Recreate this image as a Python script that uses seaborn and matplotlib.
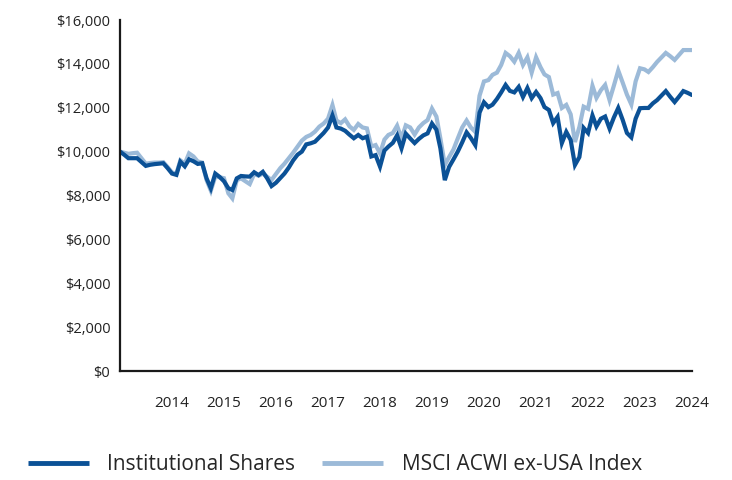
import pandas as pd
import matplotlib
matplotlib.use("Agg")
import matplotlib.pyplot as plt
import matplotlib.ticker as mticker
import seaborn as sns

# monthly growth of $10,000, Jan 2013 .. Jan 2024
fechas = pd.date_range("2013-01-01", periods=133, freq="MS")

institutional = [
    10000, 9850, 9700, 9700, 9700, 9520, 9350, 9400, 9430, 9450, 9470, 9250,
    9000, 8940, 9540, 9330, 9650, 9560, 9440, 9470, 8780, 8330, 9000, 8850,
    8650, 8330, 8250, 8780, 8890, 8870, 8860, 9060, 8930, 9080, 8780, 8430,
    8580, 8800, 9000, 9280, 9600, 9860, 10000, 10330, 10380, 10450, 10650, 10850,
    11100, 11650, 11100, 11050, 10950, 10770, 10610, 10760, 10610, 10680, 9780, 9840,
    9315, 10050, 10230, 10400, 10740, 10150, 10820, 10600, 10390, 10580, 10740, 10830,
    11280, 11000, 10150, 8700, 9300, 9650, 10000, 10420, 10880, 10620, 10300, 11780,
    12250, 12030, 12140, 12400, 12700, 13040, 12770, 12700, 12950, 12490, 12900, 12440,
    12720, 12440, 12030, 11900, 11300, 11580, 10390, 10900, 10530, 9390, 9750, 11080,
    10850, 11650, 11150, 11500, 11600, 11050, 11550, 11990, 11450, 10850, 10650, 11500,
    11980, 11990, 11990, 12200, 12350, 12560, 12760, 12500, 12260, 12500, 12760, 12680, 12580,
]

msci = [
    10000, 9950, 9900, 9930, 9950, 9700, 9450, 9480, 9500, 9500, 9520, 9300,
    9050, 9000, 9600, 9450, 9920, 9780, 9550, 9500, 8700, 8220, 8860, 8830,
    8790, 8100, 7870, 8700, 8780, 8650, 8520, 8980, 8900, 9000, 8850, 8707,
    8980, 9250, 9450, 9700, 9950, 10230, 10500, 10670, 10760, 10910, 11140, 11280,
    11500, 12120, 11420, 11300, 11470, 11150, 10990, 11260, 11100, 11060, 10230, 10300,
    9920, 10550, 10760, 10850, 11180, 10600, 11200, 11100, 10780, 11100, 11300, 11440,
    11960, 11600, 10600, 9390, 9750, 10100, 10600, 11100, 11420, 11100, 10900, 12550,
    13200, 13260, 13500, 13600, 13950, 14500, 14350, 14100, 14500, 13950, 14300, 13600,
    14300, 13850, 13520, 13400, 12600, 12670, 11990, 12130, 11700, 10440, 11120, 12050,
    11950, 13000, 12450, 12800, 13040, 12350, 13000, 13700, 13150, 12600, 12150, 13200,
    13800, 13750, 13630, 13850, 14090, 14300, 14500, 14350, 14180, 14400, 14630, 14630, 14630,
]

series = ["Institutional Shares", "MSCI ACWI ex-USA Index"]
anios = [2014, 2015, 2016, 2017, 2018, 2019, 2020, 2021, 2022, 2023, 2024]
y_ticks = [0, 2000, 4000, 6000, 8000, 10000, 12000, 14000, 16000]

colores = {series[0]: "#0B5196", series[1]: "#9CBAD8"}

df = pd.concat([
    pd.DataFrame({"fecha": fechas, "valor": institutional, "serie": series[0]}),
    pd.DataFrame({"fecha": fechas, "valor": msci, "serie": series[1]}),
])

sns.set_style("white")
plt.rcParams["font.family"] = ["Open Sans", "DejaVu Sans"]

fig = plt.figure(figsize=(7.32, 4.80), dpi=100)
ax = fig.add_axes([120 / 732, 1 - 371 / 480, (692 - 120) / 732, (371 - 20) / 480])

# index drawn first so the fund line sits on top
sns.lineplot(data=df, x="fecha", y="valor", hue="serie", hue_order=series[::-1],
             palette=colores, linewidth=3.0, ax=ax, legend=False)
for ln in ax.lines:
    ln.set_solid_joinstyle("miter")

ax.set_xlim(pd.Timestamp("2013-01-01"), pd.Timestamp("2024-01-01"))
ax.set_ylim(0, 16000)
ax.set_xticks([pd.Timestamp(f"{a}-01-01") for a in anios])
ax.set_xticklabels([str(a) for a in anios])
ax.set_yticks(y_ticks)
ax.yaxis.set_major_formatter(mticker.StrMethodFormatter("${x:,.0f}"))
ax.set_xlabel("")
ax.set_ylabel("")
ax.tick_params(axis="both", length=0, labelsize=11, colors="#222222")
ax.tick_params(axis="y", labelsize=10.5, pad=7)
ax.tick_params(axis="x", pad=18)

for lado in ["top", "right"]:
    ax.spines[lado].set_visible(False)
for lado in ["left", "bottom"]:
    ax.spines[lado].set_color("#1a1a1a")
    ax.spines[lado].set_linewidth(1.6)

handles = [plt.Line2D([], [], color=colores[s], linewidth=3.5, solid_capstyle="butt")
           for s in series]
fig.legend(handles, series, loc="center", bbox_to_anchor=(335 / 732, 1 - 465 / 480),
           ncol=2, frameon=False, fontsize=15, handlelength=2.9, handletextpad=0.9,
           columnspacing=1.3)

fig.savefig("out.png", dpi=100)
